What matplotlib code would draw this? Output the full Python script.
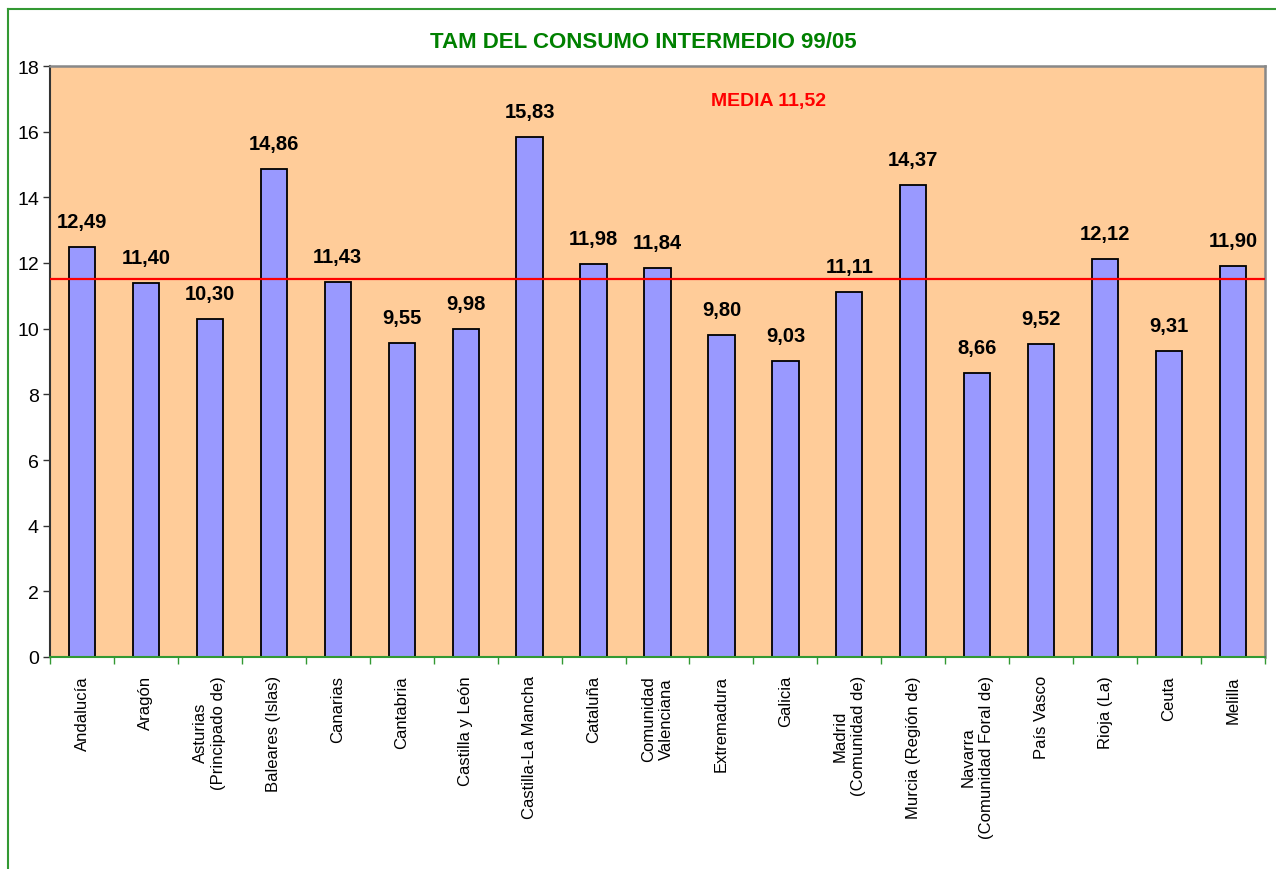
import matplotlib
matplotlib.use('Agg')
import matplotlib.pyplot as plt
from matplotlib.lines import Line2D

regions = ['Andalucía', 'Aragón', 'Asturias\n(Principado de)', 'Baleares (Islas)',
           'Canarias', 'Cantabria', 'Castilla y León', 'Castilla-La Mancha',
           'Cataluña', 'Comunidad\nValenciana', 'Extremadura', 'Galicia',
           'Madrid\n(Comunidad de)', 'Murcia (Región de)',
           'Navarra\n(Comunidad Foral de)', 'País Vasco', 'Rioja (La)',
           'Ceuta', 'Melilla']
values = [12.49, 11.40, 10.30, 14.86, 11.43, 9.55, 9.98, 15.83, 11.98, 11.84,
          9.80, 9.03, 11.11, 14.37, 8.66, 9.52, 12.12, 9.31, 11.90]
media = 11.52
title = 'TAM DEL CONSUMO INTERMEDIO 99/05'

plt.rcParams['font.family'] = ['Liberation Sans', 'DejaVu Sans']


def fmt(v):
    return f'{v:.2f}'.replace('.', ',')


def main():
    fig = plt.figure(figsize=(12.76, 8.70), dpi=100)
    ax = fig.add_axes([50 / 1276, 1 - 658 / 870, 1215 / 1276, 591 / 870])
    ax.set_facecolor('#FFCC99')

    x = list(range(len(values)))
    ax.bar(x, values, width=0.41, color='#9999FF', edgecolor='black',
           linewidth=1.3, zorder=2)
    for xi, v in zip(x, values):
        ax.annotate(fmt(v), (xi, v), xytext=(0, 20), textcoords='offset pixels',
                    ha='center', va='baseline', fontsize=14.5,
                    fontweight='bold', zorder=4)

    ax.axhline(media, color='#FF0000', linewidth=1.6, zorder=3)
    ax.text(10.74, 16.96, f'MEDIA {fmt(media)}', color='#FF0000', ha='center',
            va='center', fontsize=14, fontweight='bold')

    ax.set_xlim(-0.5, len(values) - 0.5)
    ax.set_ylim(0, 18)
    ax.set_yticks(range(0, 19, 2))
    ax.set_yticklabels([str(t) for t in range(0, 19, 2)], fontsize=14)
    ax.tick_params(axis='y', length=5, width=1, color='#333333', pad=3)

    ax.set_xticks(x)
    ax.set_xticklabels(regions, rotation=90, ha='center', va='top',
                       fontsize=12, linespacing=1.25)
    ax.tick_params(axis='x', length=0, pad=13)
    ax.set_xticks([i - 0.5 for i in range(len(values) + 1)], minor=True)
    ax.tick_params(axis='x', which='minor', length=5, width=1,
                   color='#339933', direction='out')

    ax.spines['left'].set_color('#333333')
    ax.spines['left'].set_linewidth(1.5)
    ax.spines['bottom'].set_color('#339933')
    ax.spines['bottom'].set_linewidth(1.5)
    ax.spines['top'].set_color('#888888')
    ax.spines['top'].set_linewidth(1.8)
    ax.spines['right'].set_color('#888888')
    ax.spines['right'].set_linewidth(1.8)

    fig.text(643 / 1276, 1 - 43 / 870, title, color='#008000', ha='center',
             va='center', fontsize=16, fontweight='bold')

    # green outer frame (only left and top edges are visible)
    fig.add_artist(Line2D([8 / 1276, 8 / 1276], [0, 1 - 10 / 870],
                          transform=fig.transFigure, color='#339933',
                          linewidth=1.5))
    fig.add_artist(Line2D([8 / 1276, 1], [1 - 10 / 870, 1 - 10 / 870],
                          transform=fig.transFigure, color='#339933',
                          linewidth=1.5))

    fig.savefig('out.png', dpi=100)


if __name__ == '__main__':
    main()
